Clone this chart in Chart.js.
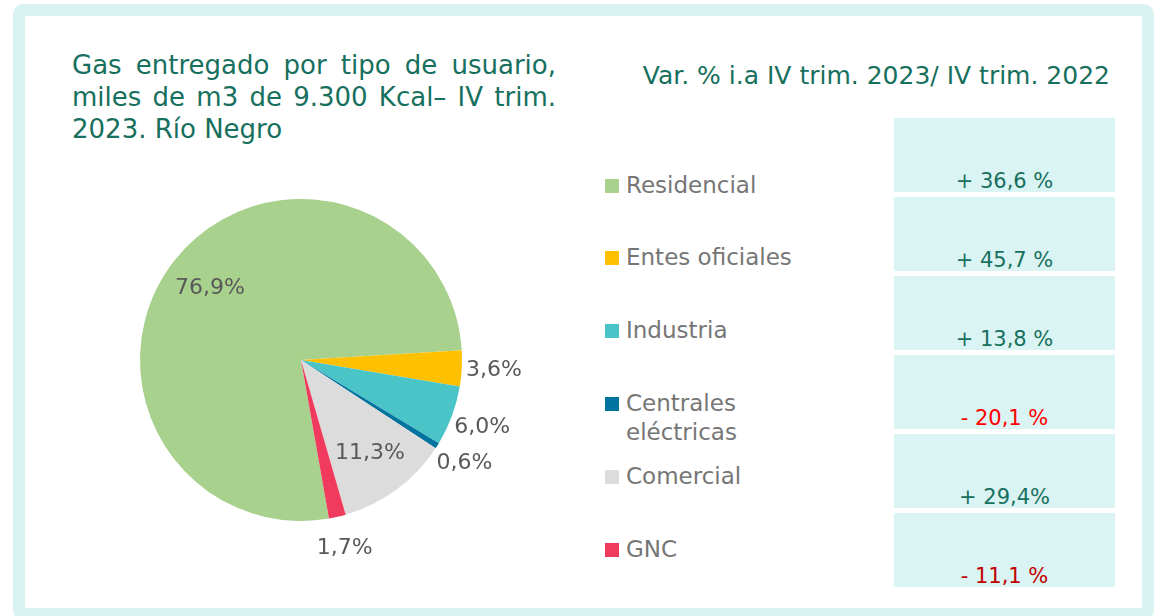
<!DOCTYPE html>
<html>
<head>
<meta charset="utf-8">
<script src="https://cdn.jsdelivr.net/npm/chart.js@4.4.1/dist/chart.umd.min.js"></script>
<style>
  html, body { margin: 0; padding: 0; background: #fff; }
  body { width: 1156px; height: 616px; position: relative; overflow: hidden; font-family: "DejaVu Sans", sans-serif; }
  .frame { position: absolute; left: 13px; top: 4px; width: 1117px; height: 592px; border: 12px solid #d9f3f2; border-radius: 10px; background: #fff; }
  .title { position: absolute; left: 72px; top: 49px; width: 484px; font-size: 26px; line-height: 32px; color: #17705e; }
  .title div { text-align: justify; text-align-last: justify; }
  .title div.last { text-align: left; text-align-last: left; }
  .header { position: absolute; left: 560px; top: 61px; width: 550px; text-align: right; font-size: 25px; line-height: 30px; color: #17705e; }
  #chartBox { position: absolute; left: 61px; top: 120px; width: 480px; height: 480px; }
  .legend-item { position: absolute; left: 605px; width: 260px; display: flex; align-items: baseline; font-size: 23px; line-height: 29px; color: #767676; }
  .legend-item .sw { width: 14px; height: 14px; flex: none; margin-right: 7px; }
  .legend-item .txt { width: 200px; }
  .var-box { position: absolute; left: 894px; width: 221px; height: 74px; background: #daf3f3; display: flex; align-items: flex-end; justify-content: center; font-size: 21px; line-height: 21px; }
</style>
</head>
<body>
<div class="frame"></div>
<div class="title">
  <div>Gas entregado por tipo de usuario,</div>
  <div>miles de m3 de 9.300 Kcal– IV trim.</div>
  <div class="last">2023. Río Negro</div>
</div>
<div class="header">Var. % i.a IV trim. 2023/ IV trim. 2022</div>
<div id="chartBox"><canvas id="pie"></canvas></div>
<div id="legend"></div>
<div id="vars"></div>

<script>
// Datos
const categorias = ['Residencial', 'Entes oficiales', 'Industria', 'Centrales eléctricas', 'Comercial', 'GNC'];
const participacion = [76.9, 3.6, 6.0, 0.6, 11.3, 1.7];
const coloresSector = ['#a9d18e', '#ffc000', '#4bc4c8', '#00739e', '#dcdcdc', '#f03b5e'];

// Variación interanual
const variacion = [36.6, 45.7, 13.8, -20.1, 29.4, -11.1];
const variacionTexto = ['+ 36,6 %', '+ 45,7 %', '+ 13,8 %', '- 20,1 %', '+ 29,4%', '- 11,1 %'];
const variacionColor = ['#17705e', '#17705e', '#17705e', '#ff0000', '#17705e', '#c00000'];

// Leyenda y tabla
const legend = document.getElementById('legend');
const vars = document.getElementById('vars');
categorias.forEach((cat, i) => {
  const item = document.createElement('div');
  item.className = 'legend-item';
  item.style.top = (170.5 + i * 72.8) + 'px';
  item.innerHTML = '<span class="sw" style="background:' + coloresSector[i] + '"></span><span class="txt">' + cat + '</span>';
  legend.appendChild(item);

  const box = document.createElement('div');
  box.className = 'var-box';
  box.style.top = (118 + i * 79) + 'px';
  box.style.color = variacionColor[i];
  box.textContent = variacionTexto[i];
  vars.appendChild(box);
});

// Etiquetas de porcentaje sobre la torta
const etiquetasPie = {
  id: 'etiquetasPie',
  afterDatasetsDraw(chart) {
    const ctx = chart.ctx;
    const meta = chart.getDatasetMeta(0);
    ctx.save();
    ctx.font = '22px "DejaVu Sans", sans-serif';
    ctx.fillStyle = '#595959';
    ctx.textAlign = 'center';
    ctx.textBaseline = 'middle';
    meta.data.forEach((arc, i) => {
      const v = chart.data.datasets[0].data[i];
      const mid = (arc.startAngle + arc.endAngle) / 2;
      const r = v > 10 ? arc.outerRadius * 0.72 : arc.outerRadius * 1.2;
      const x = arc.x + Math.cos(mid) * r;
      const y = arc.y + Math.sin(mid) * r;
      ctx.fillText(v.toFixed(1).replace('.', ',') + '%', x, y);
    });
    ctx.restore();
  }
};

new Chart(document.getElementById('pie').getContext('2d'), {
  type: 'pie',
  data: {
    labels: categorias,
    datasets: [{
      data: participacion,
      backgroundColor: coloresSector,
      borderWidth: 0
    }]
  },
  options: {
    responsive: true,
    maintainAspectRatio: false,
    animation: false,
    rotation: 170,
    layout: { padding: 79 },
    plugins: {
      legend: { display: false },
      tooltip: { enabled: false }
    }
  },
  plugins: [etiquetasPie]
});
</script>
</body>
</html>
